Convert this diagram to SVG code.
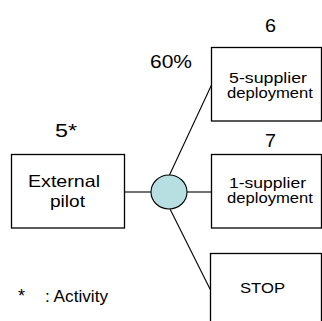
<svg xmlns="http://www.w3.org/2000/svg" width="322" height="321" viewBox="0 0 322 321">
<style>
.box{fill:#fff;stroke:#000;stroke-width:1.3}
.conn line{stroke:#000;stroke-width:1.1}
text{font-family:"Liberation Sans",Arial,sans-serif;fill:#000}
.lbl{font-size:14.5px}
.num{font-size:18px}
</style>
<rect width="322" height="321" fill="#fff"/>
<g id="connectors" class="conn">
<line x1="124.5" y1="192" x2="151" y2="192"/>
<line x1="187" y1="192" x2="211" y2="192"/>
<line x1="169.5" y1="175" x2="211.5" y2="85"/>
<line x1="170" y1="209" x2="210.5" y2="290"/>
</g>
<g id="node-external-pilot">
<rect class="box" x="11.5" y="154.5" width="113" height="73.5"/>
<text class="num" x="55" y="136.5" textLength="22" lengthAdjust="spacingAndGlyphs">5*</text>
<text x="28" y="187.3" font-size="16.5" textLength="72" lengthAdjust="spacingAndGlyphs">External</text>
<text x="50" y="206.7" font-size="16.5" textLength="35" lengthAdjust="spacingAndGlyphs">pilot</text>
</g>
<g id="node-chance">
<ellipse cx="169" cy="192" rx="18" ry="17" fill="#b7dfe2" stroke="#000" stroke-width="1.1"/>
<text x="150" y="68" font-size="18" textLength="42" lengthAdjust="spacingAndGlyphs">60%</text>
</g>
<g id="node-5-supplier">
<rect class="box" x="211.5" y="47.5" width="110" height="73.5"/>
<text class="num" x="265" y="31.7" textLength="11" lengthAdjust="spacingAndGlyphs">6</text>
<text class="lbl" x="229" y="82.5" textLength="78" lengthAdjust="spacingAndGlyphs">5-supplier</text>
<text class="lbl" x="227" y="97.5" textLength="86" lengthAdjust="spacingAndGlyphs">deployment</text>
</g>
<g id="node-1-supplier">
<rect class="box" x="211.5" y="154.5" width="110" height="73.5"/>
<text class="num" x="265" y="147" textLength="11" lengthAdjust="spacingAndGlyphs">7</text>
<text class="lbl" x="229" y="187.5" textLength="77" lengthAdjust="spacingAndGlyphs">1-supplier</text>
<text class="lbl" x="227" y="202.5" textLength="86" lengthAdjust="spacingAndGlyphs">deployment</text>
</g>
<g id="node-stop">
<rect class="box" x="210.5" y="253.5" width="111" height="80"/>
<text x="240" y="292.7" font-size="15.5" textLength="45" lengthAdjust="spacingAndGlyphs">STOP</text>
</g>
<g id="legend">
<text x="18" y="302" font-size="18">*</text>
<text x="45" y="302" font-size="17" textLength="63" lengthAdjust="spacingAndGlyphs">: Activity</text>
</g>
</svg>
